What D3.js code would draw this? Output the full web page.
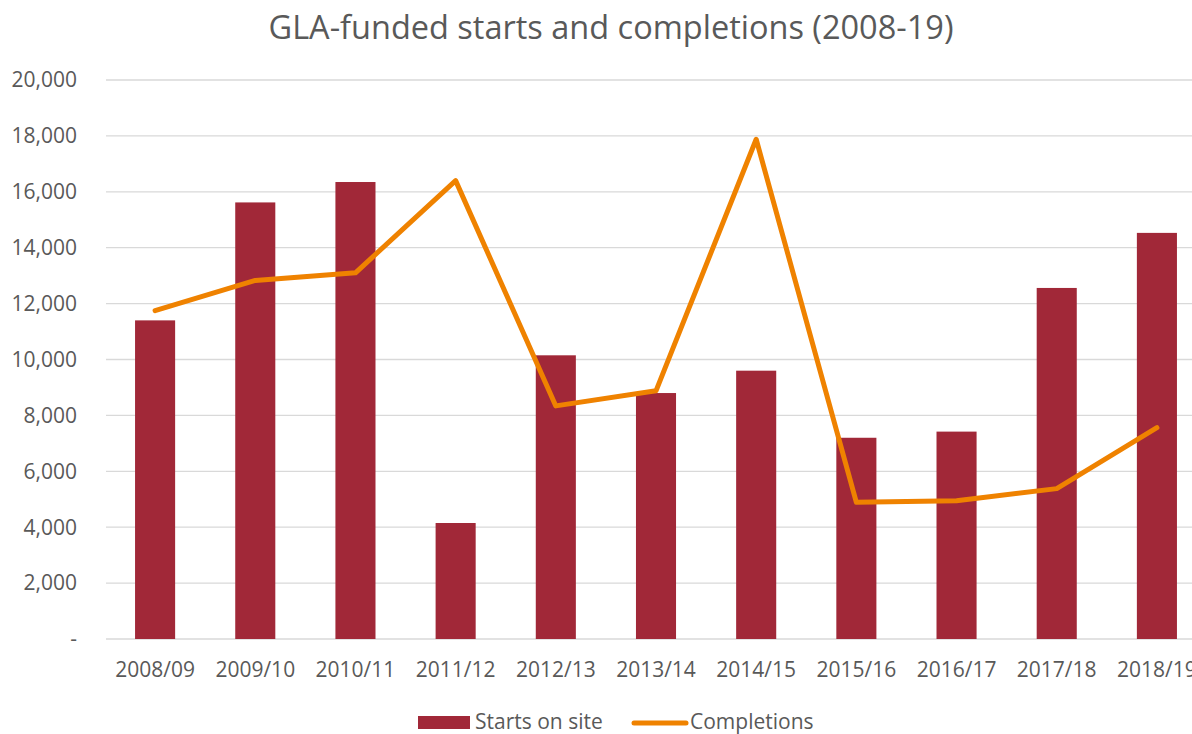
<!DOCTYPE html>
<html>
<head>
<meta charset="utf-8">
<script src="https://cdn.jsdelivr.net/npm/d3@7"></script>
<style>
  body { margin: 0; background: #fff; overflow: hidden; }
  #chart { width: 1192px; height: 734px; overflow: hidden; }
  text { font-family: "Open Sans", sans-serif; fill: #595959; }
</style>
</head>
<body>
<div id="chart"></div>
<script>
let years = ['2008/09','2009/10','2010/11','2011/12','2012/13','2013/14','2014/15','2015/16','2016/17','2017/18','2018/19']
let starts = [11400, 15620, 16350, 4150, 10150, 8800, 9600, 7200, 7420, 12560, 14530]
let completions = [11750, 12830, 13100, 16400, 8340, 8880, 17880, 4890, 4950, 5380, 7560]
let yTicks = [0, 2000, 4000, 6000, 8000, 10000, 12000, 14000, 16000, 18000, 20000]

let width = 1192, height = 734

let svg = d3.select('#chart')
  .append('svg')
    .attr('width', width)
    .attr('height', height)

// title
svg.append('text')
  .attr('x', 611)
  .attr('y', 39)
  .attr('text-anchor', 'middle')
  .style('font-size', '32.5px')
  .text('GLA-funded starts and completions (2008-19)')

let x = d3.scaleBand()
  .domain(years)
  .range([105, 1207])
  .paddingInner(0.6)
  .paddingOuter(0.3)

let y = d3.scaleLinear()
  .domain([0, 20000])
  .range([639, 80])

// gridlines
svg.selectAll('.grid')
  .data(yTicks)
  .enter()
  .append('line')
  .attr('x1', 106)
  .attr('x2', width)
  .attr('y1', d => y(d))
  .attr('y2', d => y(d))
  .attr('stroke', '#d9d9d9')
  .attr('stroke-width', 1.3)

// y labels
svg.selectAll('.ylab')
  .data(yTicks)
  .enter()
  .append('text')
  .attr('x', 77)
  .attr('y', d => y(d))
  .attr('dy', '0.35em')
  .attr('text-anchor', 'end')
  .style('font-size', '21px')
  .text(d => d === 0 ? '-' : d3.format(',')(d))

// bars
svg.selectAll('.bar')
  .data(starts)
  .enter()
  .append('rect')
  .attr('x', (d, i) => x(years[i]))
  .attr('width', x.bandwidth())
  .attr('y', d => y(d))
  .attr('height', d => y(0) - y(d))
  .attr('fill', '#A12838')

// x labels
svg.selectAll('.xlab')
  .data(years)
  .enter()
  .append('text')
  .attr('x', d => x(d) + x.bandwidth() / 2)
  .attr('y', 677)
  .attr('text-anchor', 'middle')
  .style('font-size', '21px')
  .text(d => d)

// completions line
svg.append('path')
  .datum(completions)
  .attr('fill', 'none')
  .attr('stroke', '#EF8200')
  .attr('stroke-width', 5)
  .attr('stroke-linecap', 'round')
  .attr('stroke-linejoin', 'round')
  .attr('d', d3.line()
    .x((d, i) => x(years[i]) + x.bandwidth() / 2)
    .y(d => y(d))
  )

// legend
let legend = svg.append('g')
legend.append('rect')
  .attr('x', 418)
  .attr('y', 716)
  .attr('width', 52)
  .attr('height', 13)
  .attr('fill', '#A12838')
legend.append('text')
  .attr('x', 475)
  .attr('y', 729)
  .style('font-size', '21px')
  .text('Starts on site')
legend.append('line')
  .attr('x1', 634)
  .attr('x2', 686)
  .attr('y1', 723)
  .attr('y2', 723)
  .attr('stroke', '#EF8200')
  .attr('stroke-width', 5)
  .attr('stroke-linecap', 'round')
legend.append('text')
  .attr('x', 690)
  .attr('y', 729)
  .style('font-size', '21px')
  .text('Completions')
</script>
</body>
</html>
